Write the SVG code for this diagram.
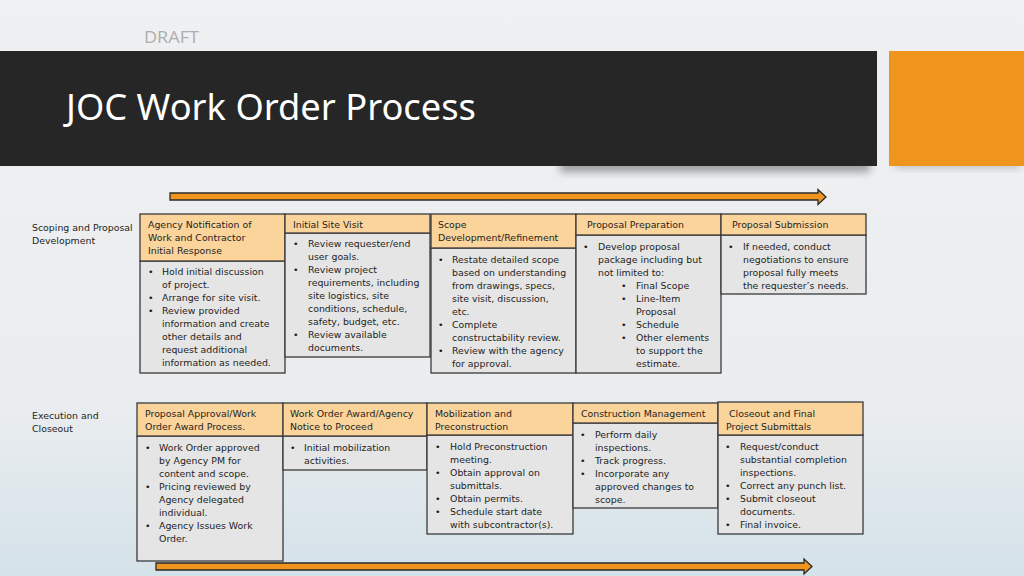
<svg xmlns="http://www.w3.org/2000/svg" width="1024" height="576" viewBox="0 0 1024 576">
<defs>
<linearGradient id="bg" x1="0" y1="0" x2="0" y2="1">
<stop offset="0" stop-color="#eff0f2"/>
<stop offset="0.7" stop-color="#eaedef"/>
<stop offset="1" stop-color="#d4e2e9"/>
</linearGradient>
<filter id="blur" x="-20%" y="-50%" width="140%" height="200%"><feGaussianBlur stdDeviation="4"/></filter>
<style>
.t{font-family:"DejaVu Sans",Verdana,sans-serif;font-size:9.4px;fill:#1e1e1e}
.lab{font-family:"DejaVu Sans",Verdana,sans-serif;font-size:9.4px;fill:#1e1e1e}
.hd{fill:#fbd49c;stroke:#3a3a3a;stroke-width:1.3}
.bd{fill:#e5e5e5;stroke:#3a3a3a;stroke-width:1.3}
.arr{fill:#ef941d;stroke:#2a2a2a;stroke-width:1.3;stroke-linejoin:miter}
</style>
</defs>
<rect width="1024" height="576" fill="url(#bg)"/>
<rect x="560" y="158" width="310" height="14" fill="#000" opacity="0.35" filter="url(#blur)"/>
<rect x="895" y="158" width="125" height="10" fill="#000" opacity="0.2" filter="url(#blur)"/>
<rect x="0" y="51" width="877" height="115" fill="#262626"/>
<rect x="889" y="51" width="135" height="115" fill="#ef951d"/>
<text x="144" y="43" font-family="'Open Sans','DejaVu Sans',sans-serif" font-size="17" fill="#aeaeae" textLength="55" lengthAdjust="spacingAndGlyphs">DRAFT</text>
<text x="66" y="120" font-family="'Noto Sans','DejaVu Sans',sans-serif" font-size="37" fill="#ffffff" textLength="410" lengthAdjust="spacingAndGlyphs">JOC Work Order Process</text>

<g id="connectors">
<polygon class="arr" points="170,193 818,193 818,189.5 826,197 818,204.5 818,200 170,200"/>
<polygon class="arr" points="156,563 804,563 804,559 812,566.5 804,574 804,570 156,570"/>
</g>

<g id="label-scoping">
<text class="lab" x="32" y="231">Scoping and Proposal</text>
<text class="lab" x="32" y="244">Development</text>
</g>
<g id="label-execution">
<text class="lab" x="32" y="419">Execution and</text>
<text class="lab" x="32" y="432">Closeout</text>
</g>

<g id="n1">
<rect class="bd" x="140" y="261" width="145" height="112"/>
<rect class="hd" x="140" y="214" width="145" height="47"/>
<text class="t" x="148" y="228">Agency Notification of</text>
<text class="t" x="148" y="241">Work and Contractor</text>
<text class="t" x="148" y="254">Initial Response</text>
<text class="t" x="148" y="275">•</text><text class="t" x="162" y="275">Hold initial discussion</text>
<text class="t" x="162" y="288">of project.</text>
<text class="t" x="148" y="301">•</text><text class="t" x="162" y="301">Arrange for site visit.</text>
<text class="t" x="148" y="314">•</text><text class="t" x="162" y="314">Review provided</text>
<text class="t" x="162" y="327">information and  create</text>
<text class="t" x="162" y="340">other details and</text>
<text class="t" x="162" y="353">request additional</text>
<text class="t" x="162" y="366">information as needed.</text>
</g>

<g id="n2">
<rect class="bd" x="285" y="233" width="145" height="124"/>
<rect class="hd" x="285" y="214" width="145" height="19"/>
<text class="t" x="293" y="228">Initial Site Visit</text>
<text class="t" x="293" y="247">•</text><text class="t" x="308" y="247">Review requester/end</text>
<text class="t" x="308" y="260">user goals.</text>
<text class="t" x="293" y="273">•</text><text class="t" x="308" y="273">Review project</text>
<text class="t" x="308" y="286">requirements, including</text>
<text class="t" x="308" y="299">site logistics, site</text>
<text class="t" x="308" y="312">conditions, schedule,</text>
<text class="t" x="308" y="325">safety, budget, etc.</text>
<text class="t" x="293" y="338">•</text><text class="t" x="308" y="338">Review available</text>
<text class="t" x="308" y="351">documents.</text>
</g>

<g id="n3">
<rect class="bd" x="431" y="248" width="145" height="125"/>
<rect class="hd" x="431" y="214" width="145" height="34"/>
<text class="t" x="438" y="228">Scope</text>
<text class="t" x="438" y="241">Development/Refinement</text>
<text class="t" x="438" y="263">•</text><text class="t" x="452" y="263">Restate detailed scope</text>
<text class="t" x="452" y="276">based on understanding</text>
<text class="t" x="452" y="289">from drawings, specs,</text>
<text class="t" x="452" y="302">site visit, discussion,</text>
<text class="t" x="452" y="315">etc.</text>
<text class="t" x="438" y="328">•</text><text class="t" x="452" y="328">Complete</text>
<text class="t" x="452" y="341">constructability review.</text>
<text class="t" x="438" y="354">•</text><text class="t" x="452" y="354">Review with the agency</text>
<text class="t" x="452" y="367">for approval.</text>
</g>

<g id="n4">
<rect class="bd" x="576" y="235" width="145" height="138"/>
<rect class="hd" x="576" y="214" width="145" height="21"/>
<text class="t" x="587" y="228">Proposal Preparation</text>
<text class="t" x="583" y="250">•</text><text class="t" x="598" y="250">Develop proposal</text>
<text class="t" x="598" y="263">package including but</text>
<text class="t" x="598" y="276">not limited to:</text>
<text class="t" x="621" y="289">•</text><text class="t" x="636" y="289">Final Scope</text>
<text class="t" x="621" y="302">•</text><text class="t" x="636" y="302">Line-Item</text>
<text class="t" x="636" y="315">Proposal</text>
<text class="t" x="621" y="328">•</text><text class="t" x="636" y="328">Schedule</text>
<text class="t" x="621" y="341">•</text><text class="t" x="636" y="341">Other elements</text>
<text class="t" x="636" y="354">to support the</text>
<text class="t" x="636" y="367">estimate.</text>
</g>

<g id="n5">
<rect class="bd" x="721" y="235" width="145" height="59"/>
<rect class="hd" x="721" y="214" width="145" height="21"/>
<text class="t" x="732" y="228">Proposal Submission</text>
<text class="t" x="728" y="250">•</text><text class="t" x="743" y="250">If needed, conduct</text>
<text class="t" x="743" y="263">negotiations to ensure</text>
<text class="t" x="743" y="276">proposal fully meets</text>
<text class="t" x="743" y="289">the requester’s needs.</text>
</g>

<g id="n6">
<rect class="bd" x="137" y="436" width="146" height="125"/>
<rect class="hd" x="137" y="403" width="146" height="33"/>
<text class="t" x="145" y="417">Proposal Approval/Work</text>
<text class="t" x="145" y="430">Order Award Process.</text>
<text class="t" x="145" y="451">•</text><text class="t" x="159" y="451">Work Order approved</text>
<text class="t" x="159" y="464">by Agency PM for</text>
<text class="t" x="159" y="477">content and scope.</text>
<text class="t" x="145" y="490">•</text><text class="t" x="159" y="490">Pricing reviewed by</text>
<text class="t" x="159" y="503">Agency delegated</text>
<text class="t" x="159" y="516">individual.</text>
<text class="t" x="145" y="529">•</text><text class="t" x="159" y="529">Agency Issues Work</text>
<text class="t" x="159" y="542">Order.</text>
</g>

<g id="n7">
<rect class="bd" x="283" y="436" width="144" height="34"/>
<rect class="hd" x="283" y="403" width="144" height="33"/>
<text class="t" x="290" y="417">Work Order Award/Agency</text>
<text class="t" x="290" y="430">Notice to Proceed</text>
<text class="t" x="290" y="451">•</text><text class="t" x="304" y="451">Initial mobilization</text>
<text class="t" x="304" y="464">activities.</text>
</g>

<g id="n8">
<rect class="bd" x="427" y="435" width="146" height="99"/>
<rect class="hd" x="427" y="403" width="146" height="32"/>
<text class="t" x="435" y="417">Mobilization and</text>
<text class="t" x="435" y="430">Preconstruction</text>
<text class="t" x="435" y="450">•</text><text class="t" x="450" y="450">Hold Preconstruction</text>
<text class="t" x="450" y="463">meeting.</text>
<text class="t" x="435" y="476">•</text><text class="t" x="450" y="476">Obtain approval on</text>
<text class="t" x="450" y="489">submittals.</text>
<text class="t" x="435" y="502">•</text><text class="t" x="450" y="502">Obtain permits.</text>
<text class="t" x="435" y="515">•</text><text class="t" x="450" y="515">Schedule start date</text>
<text class="t" x="450" y="528">with subcontractor(s).</text>
</g>

<g id="n9">
<rect class="bd" x="573" y="423" width="145" height="85"/>
<rect class="hd" x="573" y="403" width="145" height="20"/>
<text class="t" x="581" y="417">Construction Management</text>
<text class="t" x="580" y="437.5">•</text><text class="t" x="595" y="437.5">Perform daily</text>
<text class="t" x="595" y="450.5">inspections.</text>
<text class="t" x="580" y="463.5">•</text><text class="t" x="595" y="463.5">Track progress.</text>
<text class="t" x="580" y="476.5">•</text><text class="t" x="595" y="476.5">Incorporate any</text>
<text class="t" x="595" y="489.5">approved changes to</text>
<text class="t" x="595" y="502.5">scope.</text>
</g>

<g id="n10">
<rect class="bd" x="718" y="435" width="145" height="99"/>
<rect class="hd" x="718" y="402" width="145" height="33"/>
<text class="t" x="729" y="417">Closeout and Final</text>
<text class="t" x="726" y="430">Project Submittals</text>
<text class="t" x="725" y="450">•</text><text class="t" x="740" y="450">Request/conduct</text>
<text class="t" x="740" y="463">substantial completion</text>
<text class="t" x="740" y="476">inspections.</text>
<text class="t" x="725" y="489">•</text><text class="t" x="740" y="489">Correct any punch list.</text>
<text class="t" x="725" y="502">•</text><text class="t" x="740" y="502">Submit closeout</text>
<text class="t" x="740" y="515">documents.</text>
<text class="t" x="725" y="528">•</text><text class="t" x="740" y="528">Final invoice.</text>
</g>
</svg>
